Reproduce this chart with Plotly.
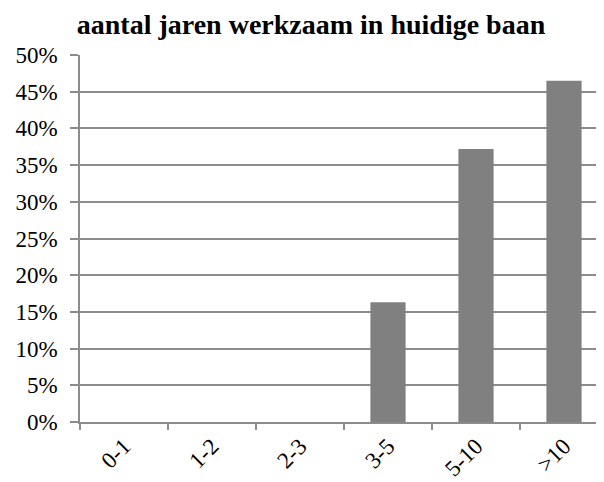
import plotly.graph_objects as go

categories = ["0-1", "1-2", "2-3", "3-5", "5-10", ">10"]
values = [0.0, 0.0, 0.0, 0.163, 0.372, 0.465]
title_text = "aantal jaren werkzaam in huidige baan"

grid_col = "#8c8c8c"
bar_col = "#808080"
W, H = 596, 474  # page body has an 8px margin

fig = go.Figure()
fig.add_trace(go.Bar(
    x=categories, y=values, width=0.4,
    marker=dict(color=bar_col, line=dict(width=0)),
    hoverinfo="x+y",
))

tick_font = dict(family="Liberation Serif, serif", size=23, color="black")

fig.update_layout(
    width=W, height=H,
    margin=dict(l=72, r=0, t=47, b=60),
    paper_bgcolor="white", plot_bgcolor="white",
    showlegend=False,
    title=dict(
        text="<b>" + title_text + "</b>",
        x=303 / W, xanchor="center",
        y=1 - 26 / H, yanchor="bottom",
        font=dict(family="Liberation Serif, serif", size=28, color="black"),
        pad=dict(t=0, b=0),
    ),
    font=dict(family="Liberation Serif, serif", size=23, color="black"),
)

fig.update_yaxes(
    range=[0, 0.5], dtick=0.05, tickformat=".0%",
    showgrid=True, gridcolor=grid_col, gridwidth=1.5,
    showline=True, linecolor=grid_col, linewidth=1.5,
    ticks="outside", ticklen=8, tickcolor=grid_col, tickwidth=1.5,
    zeroline=False, ticklabelstandoff=8, tickfont=tick_font,
)
fig.update_xaxes(
    type="category", range=[-0.5, 5.5 - 4 / 88],
    showgrid=False,
    showline=True, linecolor=grid_col, linewidth=1.5,
    ticks="outside", ticklen=6, tickcolor=grid_col, tickwidth=1.5,
    tickson="boundaries", tickangle=-45, tickfont=tick_font,
)

fig.write_html("out.html")
